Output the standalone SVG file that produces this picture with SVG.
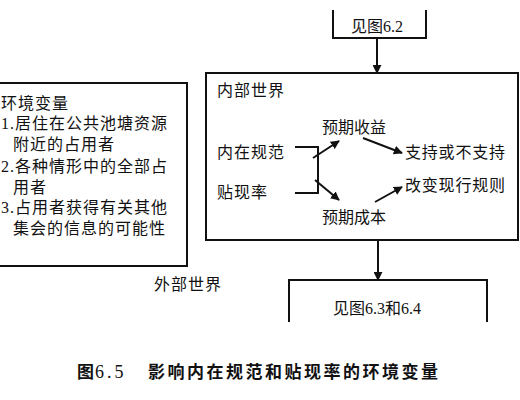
<svg xmlns="http://www.w3.org/2000/svg" width="520" height="400" viewBox="0 0 520 400">
  <style>
    text { font-family: "Liberation Serif", "Noto Sans CJK SC", serif; font-size: 16px; fill: #111; }
    .box { fill: none; stroke: #111; stroke-width: 2; }
    .ln { fill: none; stroke: #111; stroke-width: 2; }
    .sp { letter-spacing: 1px; }
    .cap { font-weight: bold; font-size: 17px; letter-spacing: 2.5px; }
  </style>
  <defs>
    <marker id="ah" viewBox="0 0 10 10" refX="9" refY="5" markerWidth="4.5" markerHeight="4.5" orient="auto" markerUnits="strokeWidth">
      <path d="M0,0 L10,5 L0,10 z" fill="#111"/>
    </marker>
  </defs>
  <rect width="520" height="400" fill="#fff"/>

  <g id="env-vars">
    <rect class="box" x="-5" y="83" width="192" height="183"/>
    <text class="sp" x="1" y="109">环境变量</text>
    <text class="sp" x="1" y="129">1.居住在公共池塘资源</text>
    <text class="sp" x="13" y="150">附近的占用者</text>
    <text class="sp" x="1" y="172">2.各种情形中的全部占</text>
    <text class="sp" x="13" y="193">用者</text>
    <text class="sp" x="1" y="213">3.占用者获得有关其他</text>
    <text class="sp" x="13" y="234">集会的信息的可能性</text>
  </g>

  <g id="see-6-2">
    <path class="ln" d="M333,10 V38 H426 V10"/>
    <text x="377" y="32" text-anchor="middle">见图6.2</text>
  </g>

  <g id="inner-world">
    <rect class="box" x="206" y="73" width="312" height="167"/>
    <text class="sp" x="217" y="96">内部世界</text>
  </g>

  <g id="norms">
    <text class="sp" x="217" y="158">内在规范</text>
  </g>
  <g id="discount">
    <text class="sp" x="217" y="198">贴现率</text>
  </g>
  <g id="benefit">
    <text x="322" y="133">预期收益</text>
  </g>
  <g id="cost">
    <text x="322" y="223">预期成本</text>
  </g>
  <g id="support">
    <text x="405" y="158" textLength="100">支持或不支持</text>
  </g>
  <g id="change">
    <text x="405" y="191" textLength="100">改变现行规则</text>
  </g>

  <g id="outer-label">
    <text class="sp" x="154" y="290">外部世界</text>
  </g>

  <g id="see-6-3">
    <path class="ln" d="M289,322 V280 H487 V322"/>
    <text x="377" y="314" text-anchor="middle">见图6.3和6.4</text>
  </g>

  <g id="connectors">
    <path class="ln" d="M295,147 H318 V193 H295"/>
    <line class="ln" x1="313" y1="158" x2="339" y2="141" marker-end="url(#ah)"/>
    <line class="ln" x1="315" y1="180" x2="339" y2="200" marker-end="url(#ah)"/>
    <line class="ln" x1="363" y1="138" x2="402" y2="153" marker-end="url(#ah)"/>
    <line class="ln" x1="375" y1="202" x2="402" y2="187" marker-end="url(#ah)"/>
    <line class="ln" x1="377" y1="38" x2="377" y2="73" marker-end="url(#ah)"/>
    <line class="ln" x1="378" y1="240" x2="378" y2="280" marker-end="url(#ah)"/>
  </g>

  <g id="caption">
    <text class="cap" x="77" y="378">图</text>
    <text class="cap" x="95" y="378" style="font-size:18px;letter-spacing:3px;font-weight:normal">6.5</text>
    <text class="cap" x="148" y="378">影响内在规范和贴现率的环境变量</text>
  </g>
</svg>
